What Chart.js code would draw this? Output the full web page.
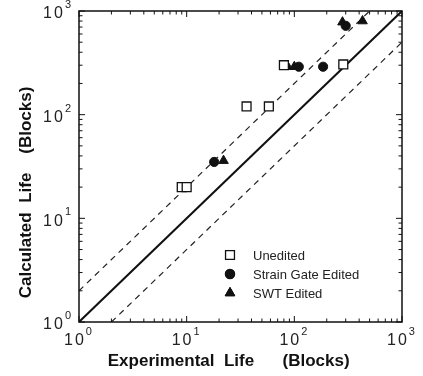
<!DOCTYPE html>
<html>
<head>
<meta charset="utf-8">
<script src="https://cdn.jsdelivr.net/npm/chart.js@4/dist/chart.umd.min.js"></script>
<style>
html, body { margin: 0; padding: 0; background: #fff; }
</style>
</head>
<body>
<canvas id="myChart" width="423" height="376"></canvas>
<script>
// data (blocks)
var uneditedX = [9, 10, 36, 58, 80, 285]
var uneditedY = [20, 20, 120, 120, 300, 305]
var strainX = [18, 110, 185, 300]
var strainY = [35, 290, 290, 720]
var swtX = [22, 87, 100, 280, 430]
var swtY = [36, 290, 290, 780, 800]

// y = x and factor-of-two band
var equalX = [1, 1000]
var equalY = [1, 1000]
var upperX = [1, 500]
var upperY = [2, 1000]
var lowerX = [2, 1000]
var lowerY = [1, 500]

var decades = [1, 10, 100, 1000]
var decadeExp = ['0', '1', '2', '3']
var legendNames = ['Unedited', 'Strain Gate Edited', 'SWT Edited']

function pts(xs, ys) {
	return xs.map(function(x, i) { return { x: x, y: ys[i] } })
}

var FONT = '"Liberation Sans", Arial, sans-serif'

/* frame, inward log ticks, superscript tick labels and legend */
var framePlugin = {
	id: 'frame',
	afterDatasetsDraw: function(chart) {
		var ctx = chart.ctx
		var a = chart.chartArea
		var sx = chart.scales.x
		var sy = chart.scales.y
		ctx.save()
		ctx.strokeStyle = '#111'
		ctx.lineWidth = 1.5
		ctx.strokeRect(a.left, a.top, a.right - a.left, a.bottom - a.top)

		ctx.lineWidth = 1
		ctx.beginPath()
		decades.forEach(function(d, i) {
			for (var k = 1; k <= 9; k++) {
				var v = d * k
				if (v > 1000) break
				var len = k == 1 ? 6 : 3.5
				var px = sx.getPixelForValue(v)
				var py = sy.getPixelForValue(v)
				ctx.moveTo(px, a.bottom); ctx.lineTo(px, a.bottom - len)
				ctx.moveTo(px, a.top); ctx.lineTo(px, a.top + len)
				ctx.moveTo(a.left, py); ctx.lineTo(a.left + len, py)
				ctx.moveTo(a.right, py); ctx.lineTo(a.right - len, py)
			}
		})
		ctx.stroke()

		// tick labels like 10^0
		ctx.fillStyle = '#222'
		ctx.textBaseline = 'middle'
		ctx.letterSpacing = '2px'
		decades.forEach(function(d, i) {
			ctx.font = '16px ' + FONT
			var wBase = ctx.measureText('10').width
			ctx.font = '11px ' + FONT
			var wExp = ctx.measureText(decadeExp[i]).width
			var total = wBase + wExp

			var px = sx.getPixelForValue(d)
			var x0 = px - total / 2
			ctx.textAlign = 'left'
			ctx.font = '16px ' + FONT
			ctx.fillText('10', x0, a.bottom + 19)
			ctx.font = '11px ' + FONT
			ctx.fillText(decadeExp[i], x0 + wBase, a.bottom + 10)

			var py = sy.getPixelForValue(d)
			var xr = a.left - 6
			ctx.font = '16px ' + FONT
			ctx.fillText('10', xr - total, py + 3)
			ctx.font = '11px ' + FONT
			ctx.fillText(decadeExp[i], xr - wExp, py - 6)
		})
		ctx.letterSpacing = '0px'

		// legend in the lower right
		var lx = a.left + 151
		var ly = a.bottom - 67
		ctx.font = '13px ' + FONT
		ctx.textAlign = 'left'
		for (var i = 0; i < legendNames.length; i++) {
			var ds = chart.data.datasets[i]
			var y = ly + i * 19
			Chart.helpers.drawPoint(ctx, {
				pointStyle: ds.pointStyle,
				radius: ds.pointRadius,
				borderWidth: ds.borderWidth,
				rotation: 0
			}, lx, y)
			ctx.fillStyle = ds.backgroundColor
			ctx.strokeStyle = ds.borderColor
			ctx.lineWidth = ds.borderWidth
			ctx.fill()
			ctx.stroke()
			ctx.fillStyle = '#222'
			ctx.fillText(legendNames[i], lx + 23, y + 1)
		}
		ctx.restore()
	}
}

var ctx = document.getElementById('myChart').getContext('2d')
var chart = new Chart(ctx, {
	type: 'scatter',
	data: {
		datasets: [{
			label: legendNames[0],
			data: pts(uneditedX, uneditedY),
			pointStyle: 'rect',
			pointRadius: 6.3,
			backgroundColor: '#fff',
			borderColor: '#111',
			borderWidth: 1.3
		}, {
			label: legendNames[1],
			data: pts(strainX, strainY),
			pointStyle: 'circle',
			pointRadius: 4.6,
			backgroundColor: '#111',
			borderColor: '#111',
			borderWidth: 1
		}, {
			label: legendNames[2],
			data: pts(swtX, swtY),
			pointStyle: 'triangle',
			pointRadius: 5.5,
			backgroundColor: '#111',
			borderColor: '#111',
			borderWidth: 1
		}, {
			label: 'y = x',
			data: pts(equalX, equalY),
			showLine: true,
			pointRadius: 0,
			borderColor: '#111',
			borderWidth: 2
		}, {
			label: '2x',
			data: pts(upperX, upperY),
			showLine: true,
			pointRadius: 0,
			borderColor: '#222',
			borderWidth: 1.2,
			borderDash: [6, 5]
		}, {
			label: 'x/2',
			data: pts(lowerX, lowerY),
			showLine: true,
			pointRadius: 0,
			borderColor: '#222',
			borderWidth: 1.2,
			borderDash: [6, 5]
		}]
	},
	options: {
		responsive: false,
		animation: false,
		layout: { padding: { top: 11, right: 21, left: 0, bottom: 0 } },
		plugins: {
			legend: { display: false },
			tooltip: { enabled: false }
		},
		scales: {
			x: {
				type: 'logarithmic',
				min: 1,
				max: 1000,
				grid: { display: false },
				border: { display: false },
				ticks: { display: false },
				title: {
					display: true,
					text: 'Experimental  Life      (Blocks)     ',
					color: '#111',
					font: { family: FONT, size: 17, weight: 'bold' },
					padding: { top: 0, bottom: 4 }
				},
				afterFit: function(s) { s.height = 54 }
			},
			y: {
				type: 'logarithmic',
				min: 1,
				max: 1000,
				grid: { display: false },
				border: { display: false },
				ticks: { display: false },
				title: {
					display: true,
					text: 'Calculated  Life    (Blocks)           ',
					color: '#111',
					font: { family: FONT, size: 17, weight: 'bold' },
					padding: { top: 16, bottom: 16 }
				},
				afterFit: function(s) { s.width = 79 }
			}
		}
	},
	plugins: [framePlugin]
})
</script>
</body>
</html>
